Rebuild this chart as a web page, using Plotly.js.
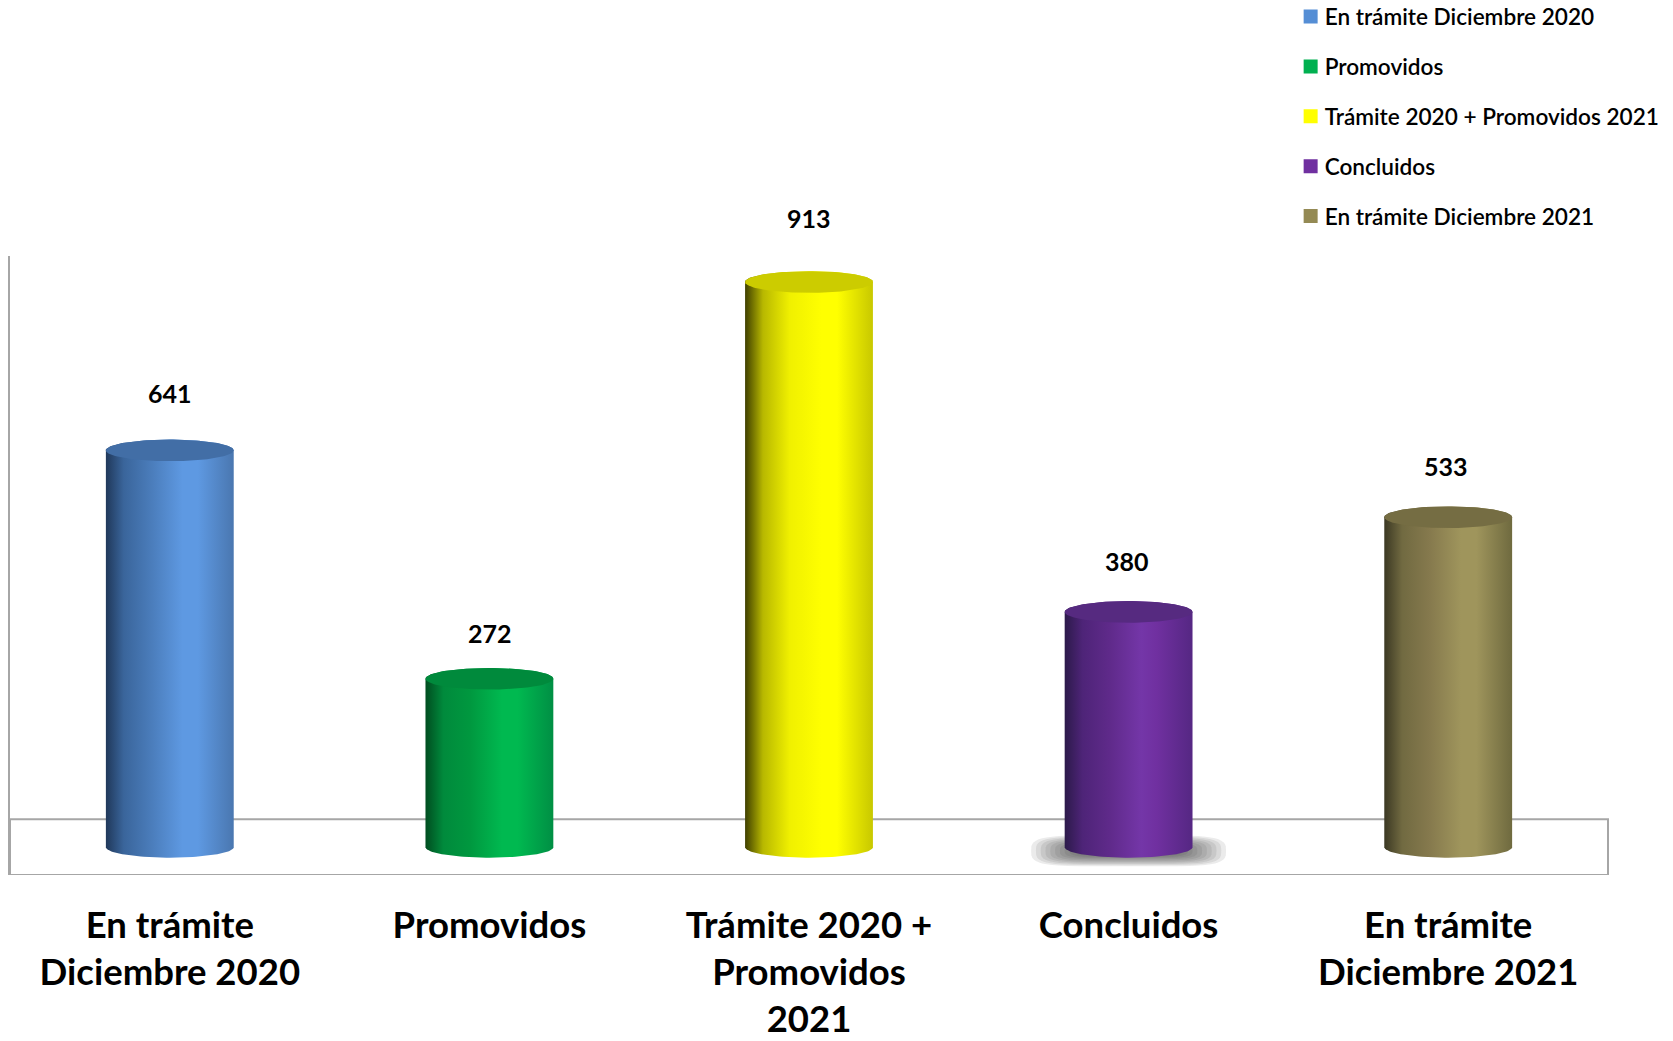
<!DOCTYPE html>
<html>
<head>
<meta charset="utf-8">
<script src="https://cdn.plot.ly/plotly-3.0.1.min.js"></script>
<style>html,body{margin:0;padding:0;background:#fff}</style>
</head>
<body>
<div id="chart" style="width:1673px;height:1041px"></div>
<script>
const categories = ["En trámite Diciembre 2020", "Promovidos", "Trámite 2020 + Promovidos 2021", "Concluidos", "En trámite Diciembre 2021"];
const tickLabels = ["En trámite<br>Diciembre 2020", "Promovidos", "Trámite 2020 +<br>Promovidos<br>2021", "Concluidos", "En trámite<br>Diciembre 2021"];
const values = [641, 272, 913, 380, 533];
const swatchColors = ["#558ed5", "#00b050", "#ffff00", "#7030a0", "#948a54"];
const capColors = ["#426ea6", "#008a3c", "#cccc00", "#562a80", "#756d43"];
const sideStops = [
  ["#20385a", "#3a659b", "#4a7cba", "#5e99e2", "#5e99e2", "#4a77b0"],
  ["#004d20", "#008a3c", "#00983f", "#00b950", "#00b950", "#008f44"],
  ["#3f3f00", "#b8b800", "#f0f000", "#ffff00", "#ffff00", "#c8c800"],
  ["#2c1a4a", "#4e2478", "#5f2a8a", "#7436a8", "#7030a0", "#552783"],
  ["#3b3823", "#716a41", "#85794d", "#9f955c", "#9f955c", "#6f6a3f"]
];
const stopPos = [0, 0.14, 0.35, 0.6, 0.72, 1];
const labelShift = [57, 46, 64, 51, 51];
const labelNudge = [0, 1, 0, -2, -2];
const halfW = 0.2, capH = 17.5, baseH = 17;
const ang = Array.from({length: 61}, (_, k) => k * Math.PI / 60);
const font = "Lato, Carlito, 'Open Sans', sans-serif";

const bars = values.map((v, i) => ({
  type: "bar", x: [i], y: [v], name: categories[i], width: 0.38,
  marker: {color: swatchColors[i], line: {color: swatchColors[i], width: 2}},
  legendgroup: "g" + i, hoverinfo: "name+y"
}));
const sides = values.map((v, i) => {
  const xs = [], ys = [];
  ang.forEach(a => { xs.push(i - halfW * Math.cos(a)); ys.push(-baseH * Math.sin(a)); });
  ang.forEach(a => { xs.push(i + halfW * Math.cos(a)); ys.push(v + capH * Math.sin(a)); });
  return {
    type: "scatter", mode: "lines", x: xs, y: ys, fill: "toself", line: {width: 0},
    fillgradient: {type: "horizontal", start: i - halfW, stop: i + halfW,
      colorscale: stopPos.map((p, k) => [p, sideStops[i][k]])},
    showlegend: false, hoverinfo: "skip"
  };
});
const caps = values.map((v, i) => {
  const xs = [], ys = [];
  for (let k = 0; k <= 120; k++) {
    const a = k * Math.PI / 60;
    xs.push(i + halfW * Math.cos(a)); ys.push(v + capH * Math.sin(a));
  }
  return {type: "scatter", mode: "lines", x: xs, y: ys, fill: "toself", fillcolor: capColors[i],
    line: {width: 0}, showlegend: false, hoverinfo: "skip"};
});

/* soft drop shadow under the fourth cylinder */
const shadowShapes = [];
for (let s = 0; s < 10; s++) {
  const w = 0.305 - s * 0.015, h = 25 - s * 1.9, cy = -6;
  const pts = [];
  for (let k = 0; k < 48; k++) {
    const a = k * Math.PI / 24, c = Math.cos(a), n = Math.sin(a);
    const px = 3 + w * Math.sign(c) * Math.pow(Math.abs(c), 0.35);
    const py = cy + h * Math.sign(n) * Math.pow(Math.abs(n), 0.6);
    pts.push((k ? "L" : "M") + px + "," + py);
  }
  shadowShapes.push({type: "path", path: pts.join(" ") + " Z", xref: "x", yref: "y",
    fillcolor: "rgba(60,60,60,0.10)", line: {width: 0}, layer: "between"});
}

const layout = {
  width: 1673, height: 1041,
  margin: {l: 10, r: 65, t: 256, b: 166, pad: 0, autoexpand: false},
  paper_bgcolor: "#fff", plot_bgcolor: "#fff",
  barmode: "overlay", showlegend: true,
  font: {family: font, color: "#000"},
  xaxis: {range: [-0.5, 4.5], tickmode: "array", tickvals: values.map((_, i) => i), ticktext: tickLabels,
    tickangle: 0, tickfont: {family: font, size: 36.5, weight: 700, color: "#000"},
    ticks: "", showgrid: false, zeroline: false, showline: false, ticklabelstandoff: 25, fixedrange: true, automargin: false},
  yaxis: {range: [-45, 955], showticklabels: false, ticks: "", showgrid: false, zeroline: false,
    showline: true, linecolor: "#a6a6a6", linewidth: 2, fixedrange: true, automargin: false},
  legend: {x: 0.8014, xanchor: "left", y: 1.421, yanchor: "top", orientation: "v", traceorder: "grouped",
    tracegroupgap: 17.5, itemwidth: 30, bgcolor: "rgba(0,0,0,0)", borderwidth: 0,
    font: {family: font, size: 22.6, weight: 600, color: "#000"}, itemclick: false, itemdoubleclick: false},
  shapes: [
    {type: "rect", xref: "paper", yref: "y", x0: 0, x1: 1, y0: -45, y1: 45,
      line: {color: "#a6a6a6", width: 2}, fillcolor: "rgba(255,255,255,0)", layer: "below"}
  ].concat(shadowShapes),
  annotations: values.map((v, i) => ({
    x: i, y: v, xref: "x", yref: "y", text: String(v), showarrow: false,
    xanchor: "center", yanchor: "middle", yshift: labelShift[i], xshift: labelNudge[i],
    font: {family: font, size: 25, weight: 700, color: "#000"}
  }))
};
Plotly.newPlot("chart", bars.concat(sides, caps), layout, {displayModeBar: false}).then(gd => {
  /* the reference keeps legend text closer to its swatch than Plotly's minimum item width */
  gd.querySelectorAll(".legendtext").forEach(t => {
    const x = parseFloat(t.getAttribute("x")) || 0;
    t.setAttribute("x", x - 6);
  });
});
</script>
</body>
</html>
